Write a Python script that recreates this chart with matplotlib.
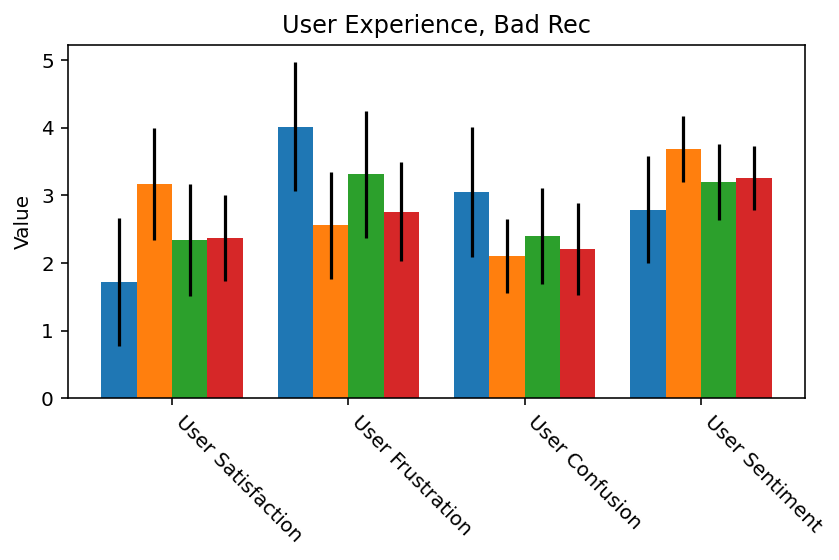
import matplotlib
matplotlib.use("Agg")
import matplotlib.pyplot as plt
import numpy as np

categories = ["User Satisfaction", "User Frustration", "User Confusion", "User Sentiment"]
colors = ["#1f77b4", "#ff7f0e", "#2ca02c", "#d62728"]

# one series per colour, values per category
means = [
    [1.72, 4.02, 3.05, 2.79],
    [3.17, 2.56, 2.10, 3.69],
    [2.34, 3.31, 2.40, 3.20],
    [2.37, 2.76, 2.21, 3.26],
]
errs = [
    [0.945, 0.96, 0.965, 0.79],
    [0.83, 0.79, 0.545, 0.49],
    [0.83, 0.935, 0.715, 0.56],
    [0.64, 0.73, 0.68, 0.47],
]

DPI = 144
fig = plt.figure(figsize=(839 / DPI, 560 / DPI), dpi=DPI)
ax = fig.add_axes([0.081, 0.289, 0.8785, 0.631])

x = np.arange(len(categories))
width = 0.2
for i, (m, e) in enumerate(zip(means, errs)):
    ax.bar(x + (i - 1.5) * width, m, width, yerr=e, color=colors[i],
           error_kw=dict(ecolor="black", elinewidth=1.6, capsize=0))

ax.set_xticks(x)
ax.set_xticklabels(categories, rotation=-45, ha="left")
ax.set_ylabel("Value")
ax.set_title("User Experience, Bad Rec")

fig.savefig("out.png", dpi=DPI)
